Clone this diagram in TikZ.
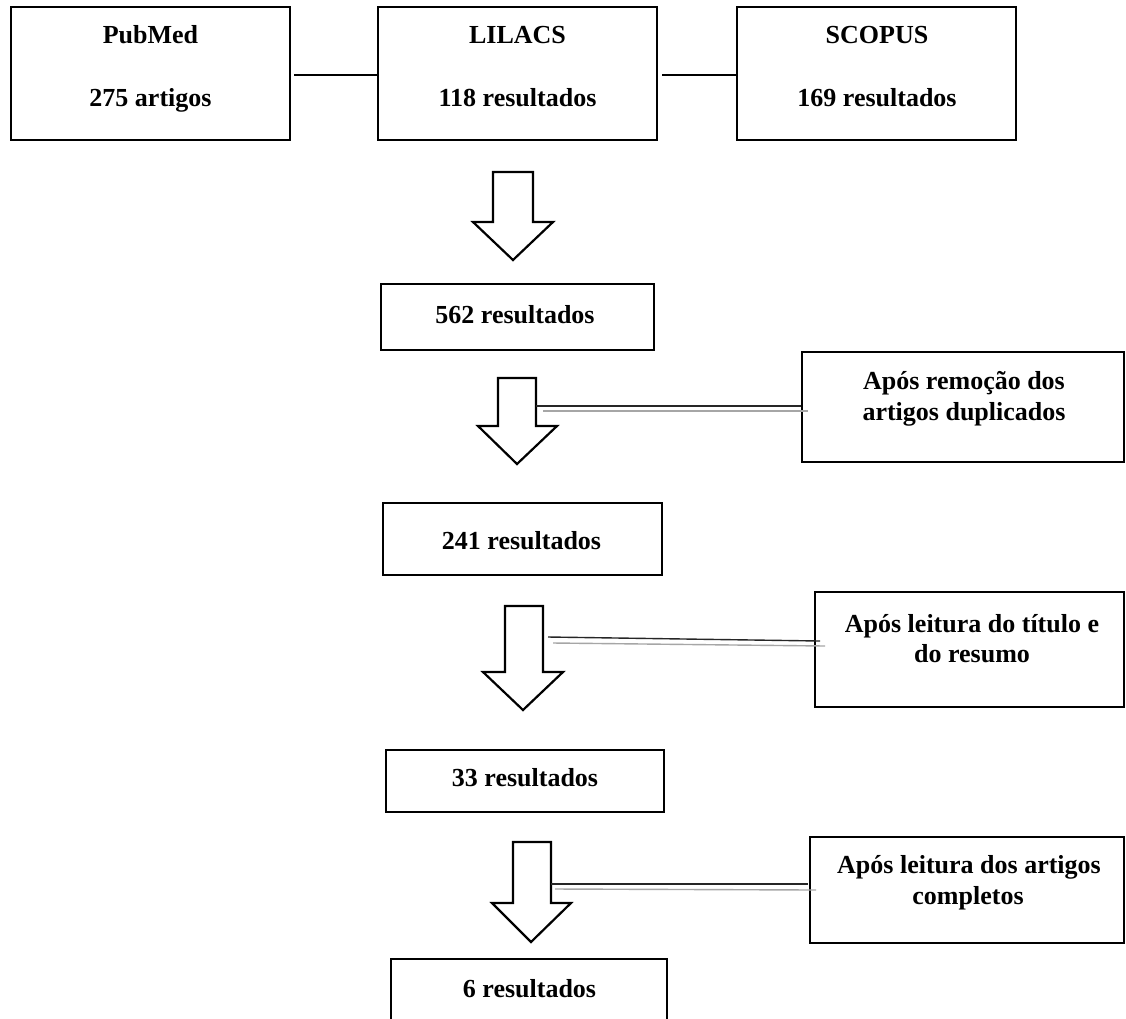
\documentclass[tikz,border=0pt]{standalone}
\usepackage{fontspec}
\setmainfont{Liberation Serif}
\begin{document}
\begin{tikzpicture}[x=1pt,y=-1pt,
  box/.style={draw, line width=2.6pt, inner sep=0pt},
  txt/.style={anchor=base, inner sep=0pt, font=\fontsize{26}{30}\selectfont\bfseries},
  blockarrow/.style={draw, line width=2.2pt, fill=white, line join=miter},
  link/.style={draw, line width=1.4pt},
  dblA/.style={draw, line width=1.4pt, black!85},
  dblB/.style={draw, line width=1.4pt, black!35}]
\useasboundingbox (0,0) rectangle (1126,1018);
\clip (0,0) rectangle (1126,1018);
\fill[white] (0,0) rectangle (1126,1018);

% top row
\node[box, minimum width=279, minimum height=133] (pub) at (150.5,73.5) {};
\node[box, minimum width=279, minimum height=133] (lil) at (517.5,73.5) {};
\node[box, minimum width=279, minimum height=133] (sco) at (876.5,73.5) {};
\node[txt] (pubA) at (150.5,43) {PubMed};
\node[txt] (pubB) at (150.5,106) {275 artigos};
\node[txt] (lilA) at (517.5,43) {LILACS};
\node[txt] (lilB) at (517.5,106) {118 resultados};
\node[txt] (scoA) at (877,43) {SCOPUS};
\node[txt] (scoB) at (877,106) {169 resultados};
\coordinate (c1) at (294,75);
\coordinate (c2) at (662,75);
\draw[link] (c1) -- (lil.west |- c1);
\draw[link] (c2) -- (sco.west |- c2);

% result boxes
\node[box, minimum width=273, minimum height=66] (r562) at (517.5,317) {};
\node[txt] (r562t) at (515,323) {562 resultados};
\node[box, minimum width=279, minimum height=72] (r241) at (522.5,539) {};
\node[txt] (r241t) at (521.5,549) {241 resultados};
\node[box, minimum width=278, minimum height=62] (r33) at (525,781) {};
\node[txt] (r33t) at (525,786) {33 resultados};
\node[box, minimum width=276, minimum height=82] (r6) at (529,1000) {};
\node[txt] (r6t) at (529.5,997) {6 resultados};

% side boxes
\node[box, minimum width=322, minimum height=110] (s1) at (963,407) {};
\node[txt] (s1a) at (964,389) {Após remoção dos};
\node[txt] (s1b) at (964,420) {artigos duplicados};
\node[box, minimum width=309, minimum height=115] (s2) at (969.5,649.5) {};
\node[txt] (s2a) at (972,632) {Após leitura do título e};
\node[txt] (s2b) at (972,662) {do resumo};
\node[box, minimum width=314, minimum height=106] (s3) at (967,890) {};
\node[txt] (s3a) at (969,873) {Após leitura dos artigos};
\node[txt] (s3b) at (968,904) {completos};

% block arrows
\draw[blockarrow] (493,172) -- (533,172) -- (533,222) -- (553,222) -- (513,260) -- (473,222) -- (493,222) -- cycle;
\draw[blockarrow] (498,378) -- (536,378) -- (536,426) -- (557,426) -- (517,464) -- (478,426) -- (498,426) -- cycle;
\draw[blockarrow] (505,606) -- (543,606) -- (543,672) -- (563,672) -- (523,710) -- (483,672) -- (505,672) -- cycle;
\draw[blockarrow] (513,842) -- (551,842) -- (551,903) -- (571,903) -- (531,942) -- (492,903) -- (513,903) -- cycle;

% double lines
\coordinate (a2r) at (536,406);
\coordinate (g1s) at (543,411);
\coordinate (g1e) at (808,411);
\draw[dblA] (a2r) -- (s1.west |- a2r);
\draw[dblB] (g1s) -- (g1e);

\coordinate (a3r) at (548,637);
\coordinate (b2e) at (820,641);
\coordinate (g2s) at (553,643);
\coordinate (g2e) at (825,646);
\draw[dblA] (a3r) -- (b2e);
\draw[dblB] (g2s) -- (g2e);

\coordinate (a4r) at (551,884);
\coordinate (b3e) at (808,884);
\coordinate (g3s) at (555,889);
\coordinate (g3e) at (816,890);
\draw[dblA] (a4r) -- (b3e);
\draw[dblB] (g3s) -- (g3e);
\end{tikzpicture}
\end{document}
